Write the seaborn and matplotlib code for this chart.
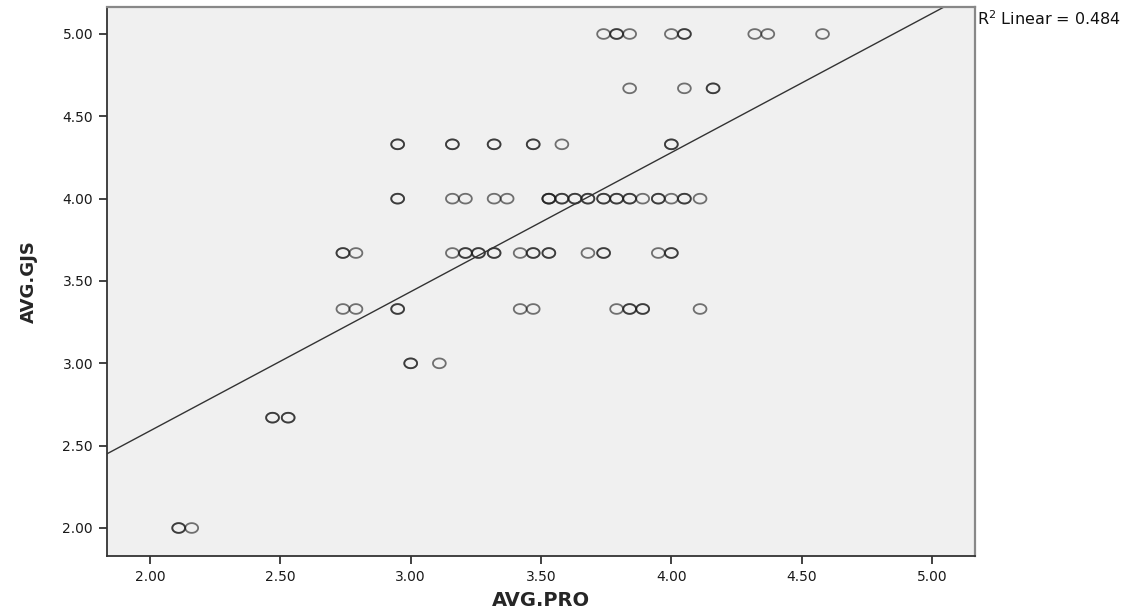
import numpy as np
import pandas as pd
import seaborn as sns
import matplotlib.pyplot as plt
from matplotlib.path import Path

sns.set_style("ticks")
plt.rcParams["font.family"] = ["DejaVu Sans"]

# AVG.PRO value, AVG.GJS value, number of cases at that spot (darker circles = overlap)
pro = [3.74, 3.79, 3.84, 4.00, 4.05, 4.32, 4.37, 4.58,
       3.84, 4.05, 4.16,
       2.95, 3.16, 3.32, 3.47, 3.58, 4.00,
       2.95, 3.16, 3.21, 3.32, 3.37, 3.53, 3.58, 3.63, 3.68, 3.74, 3.79, 3.84, 3.89, 3.95, 4.00, 4.05, 4.11,
       2.74, 2.79, 3.16, 3.21, 3.26, 3.32, 3.42, 3.47, 3.53, 3.68, 3.74, 3.95, 4.00,
       2.74, 2.79, 2.95, 3.42, 3.47, 3.79, 3.84, 3.89, 4.11,
       3.00, 3.11,
       2.47, 2.53,
       2.11, 2.16]
gjs = [5.00] * 8 + [4.67] * 3 + [4.33] * 6 + [4.00] * 17 + [3.67] * 13 + [3.33] * 9 + [3.00] * 2 + [2.67] * 2 + [2.00] * 2
counts = [1, 2, 1, 1, 2, 1, 1, 1,
          1, 1, 2,
          2, 2, 2, 2, 1, 2,
          2, 1, 1, 1, 1, 3, 2, 2, 2, 2, 2, 2, 1, 2, 1, 2, 1,
          2, 1, 1, 2, 2, 2, 1, 2, 2, 1, 2, 1, 2,
          1, 1, 2, 1, 1, 1, 2, 2, 1,
          2, 1,
          2, 2,
          2, 1]

# fit line
fit_intercept = 0.90
fit_slope = 0.845
r2_text = "R$^2$ Linear = 0.484"

x_ticks = [2.0, 2.5, 3.0, 3.5, 4.0, 4.5, 5.0]
y_ticks = [2.0, 2.5, 3.0, 3.5, 4.0, 4.5, 5.0]

df = pd.DataFrame({"AVG.PRO": np.repeat(pro, counts), "AVG.GJS": np.repeat(gjs, counts)})

# slightly flattened circle, like the SPSS output
t = np.linspace(0, 2 * np.pi, 60)
oval = Path(np.column_stack([np.cos(t), 0.76 * np.sin(t)]), closed=True)

fig = plt.figure(figsize=(11.42, 6.13), dpi=100)
ax = fig.add_axes([0.0937, 0.093, 0.7601, 0.8956])
ax.set_facecolor("#f0f0f0")

sns.scatterplot(data=df, x="AVG.PRO", y="AVG.GJS", ax=ax, marker=oval, s=85,
                facecolor="none", edgecolor=(0.1, 0.1, 0.1, 0.6), linewidth=1.3)

ax.axline((0, fit_intercept), slope=fit_slope, color="#333333", lw=1.0)

ax.set_xlim(1.835, 5.165)
ax.set_ylim(1.83, 5.164)
ax.set_xticks(x_ticks)
ax.set_yticks(y_ticks)
ax.set_xticklabels([f"{v:.2f}" for v in x_ticks], fontsize=10, color="#1a1a1a")
ax.set_yticklabels([f"{v:.2f}" for v in y_ticks], fontsize=10, color="#1a1a1a")
ax.tick_params(direction="out", length=6, width=1.3, color="#333333", pad=4)

for side in ["left", "bottom"]:
    ax.spines[side].set_color("#333333")
    ax.spines[side].set_linewidth(1.3)
for side in ["top", "right"]:
    ax.spines[side].set_color("#888888")
    ax.spines[side].set_linewidth(1.6)

ax.set_xlabel("AVG.PRO", fontsize=14, fontweight="bold", labelpad=5)
ax.set_ylabel("AVG.GJS", fontsize=13, fontweight="bold", labelpad=18)

fig.text(0.8555, 0.985, r2_text, fontsize=11.5, va="top", ha="left", color="#111111")

fig.savefig("out.png", dpi=100)
